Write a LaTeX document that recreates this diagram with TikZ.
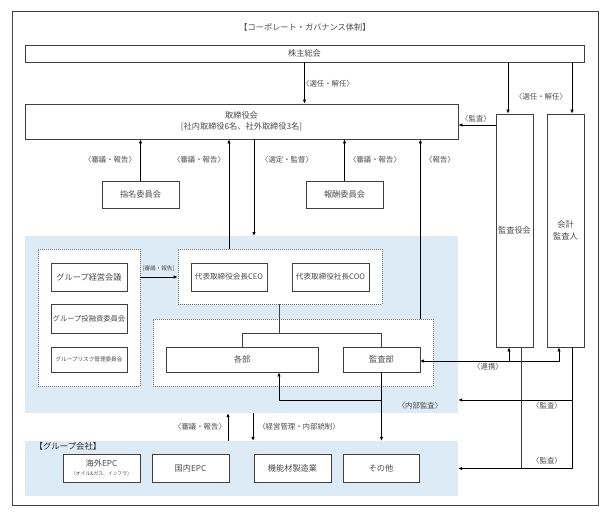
\documentclass[tikz,border=0pt]{standalone}
\usepackage{fontspec}
\setmainfont{Noto Sans CJK JP}
\usetikzlibrary{arrows.meta}
\definecolor{bandblue}{HTML}{DDEBF7}
\definecolor{ink}{HTML}{404040}

\begin{document}
\begin{tikzpicture}[x=1pt,y=-1pt,
        box/.style={draw=ink, fill=white, line width=0.8pt, inner sep=0pt, text=black!70,
            minimum width=77, minimum height=28, font=\fontsize{8.2}{9.5}\selectfont},
        dashbox/.style={draw=black!55, fill=white, line width=0.6pt, dash pattern=on 1pt off 1pt,
            inner sep=0pt},
        band/.style={fill=bandblue, inner sep=0pt},
        lbl/.style={text=black!70, inner sep=0pt, font=\fontsize{7.4}{8}\selectfont},
        arr/.style={draw=black, line width=0.8pt, -{Latex[length=4pt,width=3.5pt]}},
        ln/.style={draw=ink, line width=0.8pt}]
    \useasboundingbox (0,0) rectangle (610,519);
        % frame
            \draw[ink, line width=0.8pt] (12,11) rectangle (598,505);
            \node[lbl, font=\fontsize{8.2}{9}\selectfont] (title) at (305,27) {【コーポレート・ガバナンス体制】};
        % bands
            \node[band, minimum width=433, minimum height=177] (band1) at (241.5,324.5) {};
            \node[band, minimum width=433, minimum height=55] (band2) at (241.5,468.5) {};
            \node[lbl, font=\fontsize{8.4}{9}\selectfont, text=black!85] (grp) at (68,446) {【グループ会社】};
        % dashed groups
            \node[dashbox, minimum width=102, minimum height=137] (grpL) at (89,317.5) {};
            \node[dashbox, minimum width=204, minimum height=55] (topD) at (280,276.5) {};
            \node[dashbox, minimum width=280, minimum height=67] (botD) at (293,352.5) {};
        % boxes
            \node[box, minimum width=559, minimum height=17] (kabu) at (304.5,53.5) {株主総会};
            \node[box, minimum width=433, minimum height=35, align=center] (tori) at (241.5,121.5)
                {取締役会\\[1pt][社内取締役6名、社外取締役3名]};
            \node[box, minimum width=37, minimum height=233] (kansayaku) at (514.5,230.5) {監査役会};
            \node[box, minimum width=37, minimum height=233, align=center] (kaikei) at (565.5,230.5)
                {会計\\[2pt]監査人};
            \node[box, minimum height=27] (shimei) at (140.5,194.5) {指名委員会};
            \node[box, minimum height=27] (hoshu) at (344.5,194.5) {報酬委員会};
            \node[box, minimum width=76] (keiei) at (89,277) {グループ経営会議};
            \node[box, minimum width=76, minimum height=29, font=\fontsize{7.3}{8}\selectfont] (toyushi) at (89,318.5) {グループ投融資委員会};
            \node[box, minimum width=76, minimum height=25, font=\fontsize{5.6}{6}\selectfont] (risk) at (89,359.5) {グループリスク管理委員会};
            \node[box, minimum width=76, font=\fontsize{7.6}{8}\selectfont] (ceo) at (229,277) {代表取締役会長CEO};
            \node[box, font=\fontsize{7.6}{8}\selectfont] (coo) at (330.5,277) {代表取締役社長COO};
            \node[box, minimum width=152, minimum height=25] (kakubu) at (242,359.5) {各部};
            \node[box, minimum height=25] (kansabu) at (381.5,359.5) {監査部};
            \node[box, align=center] (kaigai) at (101.5,468)
                {海外EPC\\[-1pt]{\fontsize{4.8}{5}\selectfont （オイル\&ガス、インフラ）}};
            \node[box] (kokunai) at (190.5,468) {国内EPC};
            \node[box] (kinou) at (292.5,468) {機能材製造業};
            \node[box, minimum width=76] (sonota) at (381,468) {その他};
        % helper points
            \coordinate (dn) at (254,236);
            \coordinate (br) at (279,333);
            \coordinate (au) at (572,400);
            \coordinate (rn) at (420,361);
            \coordinate (up2) at (228,441);
            \coordinate (dn2) at (253,413);
        % top arrows
            \draw[arr] (kabu.south) -- (kabu.south |- tori.north);
            \draw[arr] ([xshift=-6.5]kansayaku.north |- kabu.south) -- ([xshift=-6.5]kansayaku.north);
            \draw[arr] ([xshift=6.5]kaikei.north |- kabu.south) -- ([xshift=6.5]kaikei.north);
            \draw[arr] ([yshift=-3.5]tori.east -| kansayaku.west) -- ([yshift=-3.5]tori.east);
            \node[lbl] (l1) at (328,84) {〈選任・解任〉};
            \node[lbl] (l2) at (541,97) {〈選任・解任〉};
            \node[lbl] (l3) at (476,119) {〈監査〉};
        % board arrows
            \draw[arr] (shimei.north) -- (shimei.north |- tori.south);
            \draw[arr] (hoshu.north) -- (hoshu.north |- tori.south);
            \draw[arr] (ceo.north |- topD.north) -- (ceo.north |- tori.south);
            \draw[arr] (dn |- tori.south) -- (dn);
            \draw[arr] (kansabu.east |- botD.north) -- (kansabu.east |- tori.south);
            \node[lbl] (l4) at (110,160) {〈審議・報告〉};
            \node[lbl] (l5) at (199,160) {〈審議・報告〉};
            \node[lbl] (l6) at (287,160) {〈選定・監督〉};
            \node[lbl] (l7) at (375,160) {〈審議・報告〉};
            \node[lbl] (l8) at (440,160) {〈報告〉};
        % inside
            \draw[arr] (keiei.east -| grpL.east) -- (keiei.east -| topD.west);
            \node[lbl, font=\fontsize{5.6}{6}\selectfont] (l9) at (158.5,269) {[審議・報告]};
            \draw[ln] (br |- topD.south) -- (br);
            \draw[ln] (kakubu.north) |- (br);
            \draw[ln] (kansabu.north) |- (br);
        % audit lines
            \draw[arr, {Latex[length=4pt,width=3.5pt]}-{Latex[length=4pt,width=3.5pt]}] ([xshift=-6.5]kaikei.south) |- (rn);
            \draw[arr] ([xshift=-5.5]kansayaku.south |- rn) -- ([xshift=-5.5]kansayaku.south);
            \node[lbl] (l10) at (488,367) {〈連携〉};
            \draw[ln] ([xshift=6.5]kansayaku.south) -- ([xshift=6.5]kansayaku.south |- band2.east);
            \draw[arr] ([xshift=6.5]kaikei.south) |- (band2.east);
            \draw[arr] (au) -- (au -| band1.east);
            \node[lbl] (l11) at (547,406) {〈監査〉};
            \node[lbl] (l12) at (547,461) {〈監査〉};
        % internal audit
            \draw[arr] (kansabu.south) -- (kansabu.south |- band2.north);
            \draw[arr] (kansabu.south |- au) -| (br |- kakubu.south);
            \node[lbl] (l13) at (420,406) {〈内部監査〉};
        % group arrows
            \draw[arr] (up2) -- (up2 |- band1.south);
            \draw[arr] (dn2) -- (dn2 |- band2.north);
            \node[lbl] (l14) at (200,427) {〈審議・報告〉};
            \node[lbl] (l15) at (299,427) {〈経営管理・内部統制〉};
    \end{tikzpicture}
\end{document}
